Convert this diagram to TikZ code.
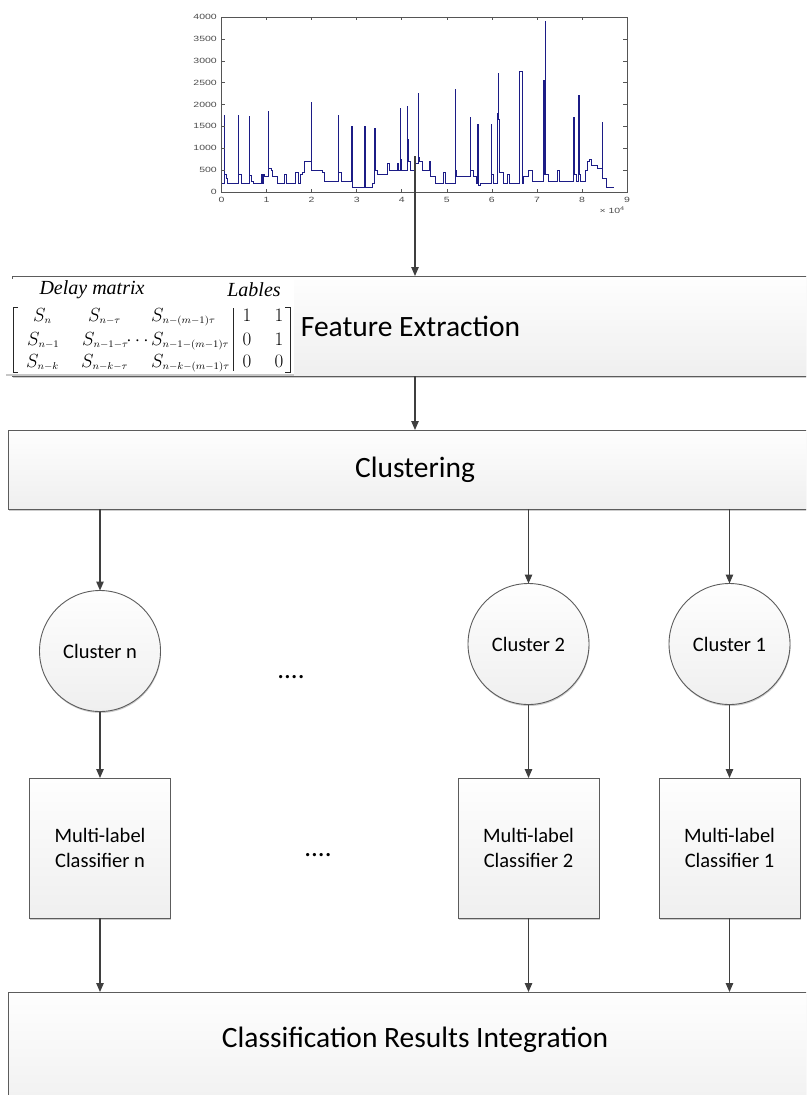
\RequirePackage{fix-cm}
\documentclass[tikz,border=0pt]{standalone}
\usepackage[no-math]{fontspec}
\setmainfont{Carlito}
\newfontfamily\plotfont{Liberation Sans}
\newfontfamily\matserif{Liberation Serif}
\usetikzlibrary{arrows.meta,shadows}

\definecolor{edgegray}{HTML}{5C5C5C}
\definecolor{arrowgray}{HTML}{3F3F3F}
\definecolor{seriesblue}{HTML}{1C1C86}
\definecolor{paneltop}{HTML}{FEFEFE}
\definecolor{panelbottom}{HTML}{EFEFEF}
\definecolor{axisgray}{HTML}{555555}

% squashed tick labels of the load plot
\newcommand\ticktext[1]{\scalebox{1}[0.72]{#1}}
% delay-matrix entry S with its subscript
\newcommand\Sub[1]{$S_{\scalebox{1.1}[1.05]{$\scriptscriptstyle #1$}}$}

\begin{document}
\begin{tikzpicture}[x=1pt,y=1pt,
  panel/.style={draw=edgegray, line width=0.9pt, top color=paneltop,
    bottom color=panelbottom, inner sep=0pt, outer sep=0pt,
    drop shadow={shadow xshift=0.5pt, shadow yshift=-1.5pt, fill=black, opacity=0.2}},
  stage/.style={panel, rectangle, font=\fontsize{29.5}{34}\selectfont},
  stagetext/.style={inner sep=0pt, font=\fontsize{29.5}{34}\selectfont},
  cluster/.style={panel, circle, minimum size=121pt, font=\fontsize{20.5}{24}\selectfont},
  classifier/.style={panel, rectangle, minimum width=141pt, minimum height=140pt,
    align=center, font=\fontsize{20.5}{24.5}\selectfont},
  ellipsis/.style={inner sep=0pt, font=\fontsize{27}{30}\selectfont},
  arr/.style={draw=arrowgray, line width=1.1pt, -{Triangle[length=9pt,width=7.5pt]}},
  ticklab/.style={inner sep=0pt, text=black!70, font=\plotfont\fontsize{10.5}{12}\selectfont},
  mcell/.style={inner sep=0pt, anchor=base west, font=\fontsize{19}{22}\selectfont},
  mnum/.style={inner sep=0pt, anchor=base, font=\fontsize{19}{22}\selectfont},
  mhead/.style={inner sep=0pt, font=\matserif\itshape\fontsize{20}{23}\selectfont},
  bracket/.style={draw=black!85, line width=0.8pt},
]
\useasboundingbox (0,0) rectangle (806,-1095);
\clip (0,0) rectangle (806,-1095);

% ---------- load curve ----------
\begin{scope}[shift={(221.5,-192)}, x=45.06pt, y=0.04375pt]
  \draw[seriesblue, line width=0.8pt]
    (0,200) -| (0.06,1750) -| (0.065,400) -| (0.1,300) -| (0.13,200)
    -| (0.38,1750) -| (0.385,400) -| (0.45,200)
    -| (0.62,1730) -| (0.625,380) -| (0.67,250) -| (0.7,200)
    -| (0.88,400) -| (0.9,200) -| (0.92,400) -| (0.95,350)
    -| (1.04,1850) -| (1.045,550) -| (1.1,500) -| (1.13,350) -| (1.25,200)
    -| (1.4,400) -| (1.45,200)
    -| (1.65,450) -| (1.7,200) -| (1.75,400) -| (1.8,450) -| (1.85,700)
    -| (1.99,2050) -| (1.995,700) -| (2.0,500)
    -| (2.25,450) -| (2.28,250)
    -| (2.6,1750) -| (2.605,450) -| (2.65,250)
    -| (2.89,1500) -| (2.895,100)
    -| (3.18,1500) -| (3.185,100)
    -| (3.35,200) -| (3.4,1450) -| (3.405,850) -| (3.42,500) -| (3.45,400)
    -| (3.68,650) -| (3.72,500) -| (3.9,650) -| (3.93,500)
    -| (3.97,1900) -| (3.975,750) -| (4.0,500)
    -| (4.13,1950) -| (4.135,1200) -| (4.15,700) -| (4.2,500)
    -| (4.3,650) -| (4.37,2250) -| (4.375,800) -| (4.4,700) -| (4.45,500)
    -| (4.62,700) -| (4.64,350) -| (4.75,200)
    -| (4.93,450) -| (4.97,200)
    -| (5.18,2350) -| (5.185,500) -| (5.22,350)
    -| (5.52,1700) -| (5.525,500) -| (5.6,350) -| (5.65,200)
    -| (5.69,1550) -| (5.695,150) -| (5.75,200)
    -| (5.98,1550) -| (5.985,400) -| (6.03,200)
    -| (6.12,1800) -| (6.15,2700) -| (6.155,1650) -| (6.17,450) -| (6.25,200)
    -| (6.35,400) -| (6.4,200)
    -| (6.62,2750) -| (6.67,200)
    -| (6.7,350) -| (6.8,500) -| (6.9,250)
    -| (7.15,2550) -| (7.155,400) -| (7.19,3900) -| (7.195,400) -| (7.25,250)
    -| (7.45,500) -| (7.5,250)
    -| (7.82,1700) -| (7.825,400) -| (7.87,250)
    -| (7.93,2200) -| (7.935,400) -| (7.97,250)
    -| (8.07,500) -| (8.12,700) -| (8.17,750) -| (8.2,600) -| (8.35,550)
    -| (8.45,1600) -| (8.455,300) -| (8.55,100) -| (8.7,100);
  \draw[axisgray, line width=0.6pt] (0,0) rectangle (9,4000);
  \foreach \i in {1,...,8} {
    \draw[axisgray, line width=0.5pt] (\i,0) -- ++(0,60);
    \draw[axisgray, line width=0.5pt] (\i,4000) -- ++(0,-60);
  }
  \foreach \j in {500,1000,...,3500} {
    \draw[axisgray, line width=0.5pt] (0,\j) -- ++(0.08,0);
    \draw[axisgray, line width=0.5pt] (9,\j) -- ++(-0.08,0);
  }
  \foreach \i in {0,...,9}
    \node[ticklab] (xl\i) at (\i,-180) {\ticktext{\i}};
  \foreach \j in {0,500,1000,...,4000}
    \node[ticklab, anchor=east] (yl\j) at (-0.1,\j) {\ticktext{\j}};
  \node[ticklab] (xexp) at (8.67,-410) {\ticktext{× 10\textsuperscript{4}}};
\end{scope}
\coordinate (plotout) at (415,-156);

% ---------- processing stages ----------
\node[stage, minimum width=797pt, minimum height=100pt, anchor=north west]
  (feat) at (12,-276) {Feature Extraction};
\node[stage, minimum width=814pt, minimum height=79pt, anchor=north west]
  (clus) at (8,-430) {Clustering};
\node[stage, minimum width=814pt, minimum height=130pt, anchor=north west]
  (integ) at (8,-992) {};
\node[stagetext] (integtext) at (415,-1040) {Classification Results Integration};

% ---------- delay matrix ----------
\node[fill=white, inner sep=0pt, outer sep=0pt, minimum width=294pt,
  minimum height=96pt, anchor=north west] (delay) at (0,-279) {};
\draw[black!22, line width=1.6pt] ([xshift=6pt]delay.south west) -- (delay.south east);
\node[mhead] (hdelay) at (92,-290) {Delay matrix};
\node[mhead] (hlabel) at (254,-290) {Lables};
\draw[bracket] (18,-307) -- (13,-307) -- (13,-372) -- (18,-372);
\draw[bracket] (285,-307) -- (290,-307) -- (290,-372) -- (285,-372);
\draw[bracket] (233,-308) -- (233,-371);
\node[mcell] (m11) at (33,-321) {\Sub{n}};
\node[mcell] (m12) at (88,-321) {\Sub{n-\tau}};
\node[mcell] (m13) at (151,-321) {\Sub{n-(m-1)\tau}};
\node[mnum] (m14) at (247,-321) {$1$};
\node[mnum] (m15) at (279,-321) {$1$};
\node[mcell] (m21) at (27,-345) {\Sub{n-1}};
\node[mcell] (m22) at (82,-345) {\Sub{n-1-\tau}};
\node[mnum] (m2d) at (137.5,-345) {$\cdots$};
\node[mcell] (m23) at (151,-345) {\Sub{n-1-(m-1)\tau}};
\node[mnum] (m24) at (247,-345) {$0$};
\node[mnum] (m25) at (279,-345) {$1$};
\node[mcell] (m31) at (26,-367) {\Sub{n-k}};
\node[mcell] (m32) at (81,-367) {\Sub{n-k-\tau}};
\node[mcell] (m33) at (151,-367) {\Sub{n-k-(m-1)\tau}};
\node[mnum] (m34) at (247,-367) {$0$};
\node[mnum] (m35) at (279,-367) {$0$};

% ---------- clusters and classifiers ----------
\node[cluster] (cn) at (100,-651) {Cluster n};
\node[cluster] (c2) at (528.5,-644) {Cluster 2};
\node[cluster] (c1) at (729.5,-644) {Cluster 1};
\node[classifier] (mn) at (100,-848) {Multi-label\\Classifier n};
\node[classifier] (m2) at (528.5,-848) {Multi-label\\Classifier 2};
\node[classifier] (m1) at (729.5,-848) {Multi-label\\Classifier 1};
\node[ellipsis] (gapc) at (291,-677) {....};
\node[ellipsis] (gapm) at (318,-855) {....};

% ---------- connectors ----------
\draw[arr] (plotout) -- (plotout |- feat.north);
\draw[arr] (plotout |- feat.south) -- (plotout |- clus.north);
\foreach \c/\m in {cn/mn, c2/m2, c1/m1} {
  \draw[arr] (clus.south -| \c) -- (\c.north);
  \draw[arr] (\c.south) -- (\m.north);
  \draw[arr] (\m.south) -- (integ.north -| \m);
}
\end{tikzpicture}
\end{document}
